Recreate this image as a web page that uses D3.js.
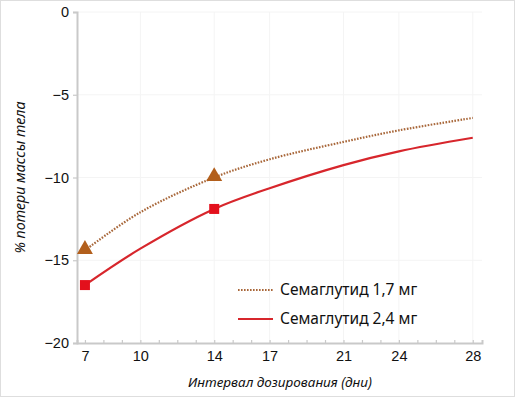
<!DOCTYPE html>
<html>
<head>
<meta charset="utf-8">
<script src="https://cdn.jsdelivr.net/npm/d3@7"></script>
<style>
  body { margin: 0; background: #fff; }
  svg { display: block; font-family: "Noto Sans", sans-serif; }
</style>
</head>
<body>
<svg width="517" height="399"></svg>
<script>
// интервал дозирования, дни
var days = [7, 10, 14, 17, 21, 24, 28];
// % потери массы тела
var dose17 = [-14.4, -12.1, -10.0, -8.9, -7.85, -7.15, -6.4];
var dose24 = [-16.5, -14.3, -11.9, -10.65, -9.25, -8.42, -7.6];
var markerDays = [7, 14];
var xTickLabels = [7, 10, 14, 17, 21, 24, 28];
var yTickLabels = [0, -5, -10, -15, -20];
var seriesNames = ["Семаглутид 1,7 мг", "Семаглутид 2,4 мг"];

var svg = d3.select("svg"),
    width = +svg.attr("width"),
    height = +svg.attr("height");

var margin = {left: 77, right: 35, top: 12, bottom: 56};

// frame round the picture
svg.append("rect")
    .attr("x", 0.5).attr("y", 0.5)
    .attr("width", width - 3).attr("height", height - 3)
    .attr("fill", "#fff")
    .attr("stroke", "#dedede");

var x = d3.scaleLinear()
    .domain([6.57, 28.5])
    .range([margin.left, width - margin.right]);

var y = d3.scaleLinear()
    .domain([-20, 0])
    .range([height - margin.bottom, margin.top]);

// faint background grid
svg.append("g")
    .selectAll("line")
    .data(xTickLabels.slice(1))
    .enter().append("line")
    .attr("x1", function (d) { return x(d); })
    .attr("x2", function (d) { return x(d); })
    .attr("y1", y(0)).attr("y2", y(-20))
    .attr("stroke", "#f4f4f4");

svg.append("g")
    .selectAll("line")
    .data(yTickLabels.slice(0, -1))
    .enter().append("line")
    .attr("x1", x.range()[0]).attr("x2", x.range()[1])
    .attr("y1", function (d) { return y(d); })
    .attr("y2", function (d) { return y(d); })
    .attr("stroke", "#f4f4f4");

// axes
var xAxis = svg.append("g")
    .attr("transform", "translate(0," + y(-20) + ")")
    .call(d3.axisBottom(x).tickValues(d3.range(7, 29)).tickSize(-3).tickFormat(function (d) {
        return xTickLabels.indexOf(d) >= 0 ? d : "";
    }));

var yAxis = svg.append("g")
    .attr("transform", "translate(" + x.range()[0] + ",0)")
    .call(d3.axisLeft(y).tickValues(yTickLabels).tickSize(4).tickPadding(4));

[xAxis, yAxis].forEach(function (a) {
    a.select(".domain").attr("stroke", "#c9c9c9").attr("stroke-width", 2);
    a.selectAll(".tick line").attr("stroke", "#c9c9c9").attr("stroke-width", 1.2);
    a.selectAll(".tick text").attr("fill", "#111").style("font-size", "14.5px");
});
xAxis.selectAll(".tick text").attr("dy", "1.05em");

// axis titles
svg.append("text")
    .attr("x", 280).attr("y", 387)
    .attr("text-anchor", "middle")
    .style("font-size", "13.5px").style("font-style", "italic")
    .attr("fill", "#111")
    .text("Интервал дозирования (дни)");

svg.append("text")
    .attr("transform", "translate(25," + y(-10) + ") rotate(-90)")
    .attr("text-anchor", "middle")
    .style("font-size", "14.3px").style("font-style", "italic")
    .attr("fill", "#111")
    .text("% потери массы тела");

// lines
var line = d3.line()
    .x(function (d) { return x(d[0]); })
    .y(function (d) { return y(d[1]); })
    .curve(d3.curveCatmullRom.alpha(0.5));

var data17 = days.map(function (d, i) { return [d, dose17[i]]; });
var data24 = days.map(function (d, i) { return [d, dose24[i]]; });

svg.append("path")
    .datum(data17)
    .attr("d", line)
    .attr("fill", "none")
    .attr("stroke", "#a8673a")
    .attr("stroke-width", 2.2)
    .attr("stroke-dasharray", "1.6 1.4");

svg.append("path")
    .datum(data24)
    .attr("d", line)
    .attr("fill", "none")
    .attr("stroke", "#d7262c")
    .attr("stroke-width", 2.2);

// markers
var tri = d3.symbol().type(d3.symbolTriangle).size(110);
svg.append("g")
    .selectAll("path")
    .data(data17.filter(function (d) { return markerDays.indexOf(d[0]) >= 0; }))
    .enter().append("path")
    .attr("d", tri)
    .attr("transform", function (d) { return "translate(" + x(d[0]) + "," + (y(d[1]) - 1) + ")"; })
    .attr("fill", "#b25f1c");

svg.append("g")
    .selectAll("rect")
    .data(data24.filter(function (d) { return markerDays.indexOf(d[0]) >= 0; }))
    .enter().append("rect")
    .attr("x", function (d) { return x(d[0]) - 5; })
    .attr("y", function (d) { return y(d[1]) - 5; })
    .attr("width", 10).attr("height", 10)
    .attr("fill", "#e3101c");

// legend
var legend = svg.append("g").attr("transform", "translate(238,290)");
var legendRows = legend.selectAll("g")
    .data(seriesNames)
    .enter().append("g")
    .attr("transform", function (d, i) { return "translate(0," + (i * 29) + ")"; });

legendRows.append("line")
    .attr("x1", 0).attr("x2", 35)
    .attr("stroke", function (d, i) { return i === 0 ? "#a8673a" : "#d7262c"; })
    .attr("stroke-width", 2.2)
    .attr("stroke-dasharray", function (d, i) { return i === 0 ? "1.6 1.4" : null; });

legendRows.append("text")
    .attr("x", 42).attr("dy", "0.35em")
    .style("font-size", "15.5px")
    .attr("fill", "#111")
    .text(function (d) { return d; });
</script>
</body>
</html>
